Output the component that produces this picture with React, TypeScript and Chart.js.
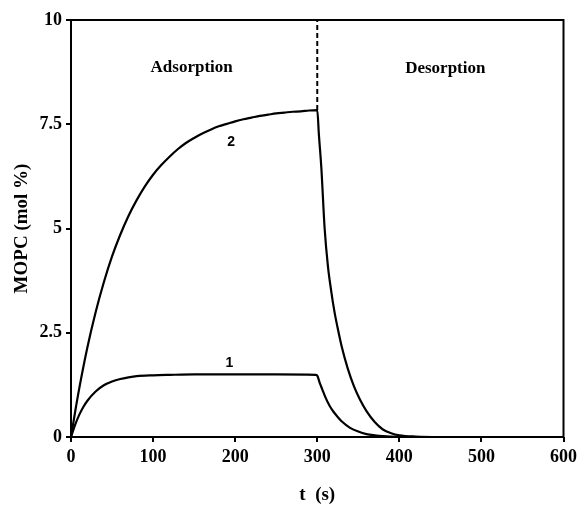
import { useEffect, useRef } from "react";
import { Chart, registerables } from "chart.js";

Chart.register(...registerables);

// Curve 2 (higher MOPC): adsorption 0-300 s, desorption after 300 s
const curve2T = [0, 5, 10, 20, 30, 40, 50, 60, 70, 80, 90, 100, 110, 120, 130, 140, 150, 160, 170, 180, 190, 200, 210, 220, 230, 240, 250, 260, 270, 280, 290, 300, 302, 305, 309, 313, 317, 321, 325, 330, 337, 345, 352, 360, 370, 380, 390, 400, 420, 450, 500, 600];
const curve2V = [0, 0.6, 1.16, 2.15, 2.99, 3.71, 4.33, 4.85, 5.3, 5.68, 6.01, 6.29, 6.52, 6.72, 6.9, 7.05, 7.17, 7.28, 7.37, 7.45, 7.51, 7.57, 7.62, 7.66, 7.7, 7.73, 7.76, 7.78, 7.8, 7.81, 7.83, 7.84, 7.25, 6.45, 5.0, 4.1, 3.5, 3.0, 2.6, 2.15, 1.65, 1.2, 0.9, 0.62, 0.36, 0.18, 0.09, 0.04, 0.01, 0, 0, 0];

// Curve 1 (lower MOPC)
const curve1T = [0, 5, 10, 15, 20, 30, 40, 50, 60, 70, 80, 100, 120, 150, 200, 250, 298, 300, 303, 306, 310, 315, 320, 325, 330, 340, 350, 360, 370, 380, 400, 450, 600];
const curve1V = [0, 0.29, 0.53, 0.72, 0.87, 1.09, 1.24, 1.33, 1.39, 1.43, 1.46, 1.48, 1.49, 1.5, 1.5, 1.5, 1.49, 1.47, 1.3, 1.15, 0.95, 0.75, 0.6, 0.48, 0.37, 0.22, 0.13, 0.07, 0.04, 0.02, 0.005, 0, 0];

// Dashed divider between adsorption and desorption
const dividerT = [300, 300];
const dividerV = [7.84, 10];

const xTicks = [0, 100, 200, 300, 400, 500, 600];
const yTicks = [0, 2.5, 5, 7.5, 10];
const yTickLabels = ["0", "2.5", "5", "7.5", "10"];

const regionLabels = ["Adsorption", "Desorption"];
const regionLabelT = [147, 456];
const regionLabelV = [8.86, 8.84];

const curveLabels = ["2", "1"];
const curveLabelT = [195, 193];
const curveLabelV = [7.08, 1.78];

const SERIF = "'Liberation Serif', 'Times New Roman', serif";
const SANS = "'Liberation Sans', Arial, sans-serif";

const toPoints = (ts: number[], vs: number[]) => ts.map((t, i) => ({ x: t, y: vs[i] }));

const textPlugin = {
  id: "textPlugin",
  afterDatasetsDraw(chart: any) {
    const { ctx, chartArea, scales } = chart;
    ctx.save();
    ctx.strokeStyle = "#000";
    ctx.lineWidth = 2;
    ctx.strokeRect(chartArea.left, chartArea.top, chartArea.right - chartArea.left, chartArea.bottom - chartArea.top);
    ctx.fillStyle = "#000";
    ctx.textAlign = "center";
    ctx.textBaseline = "middle";
    ctx.font = `bold 17px ${SERIF}`;
    regionLabels.forEach((s, i) => {
      ctx.fillText(s, scales.x.getPixelForValue(regionLabelT[i]), scales.y.getPixelForValue(regionLabelV[i]));
    });
    ctx.font = `bold 14px ${SANS}`;
    curveLabels.forEach((s, i) => {
      ctx.fillText(s, scales.x.getPixelForValue(curveLabelT[i]), scales.y.getPixelForValue(curveLabelV[i]));
    });
    ctx.restore();
  },
};

export default function App() {
  const ref = useRef<HTMLCanvasElement | null>(null);
  useEffect(() => {
    document.body.style.margin = "0";
    if (!ref.current) return;
    const tickFont = { family: SERIF, weight: "bold" as const, size: 18 };
    const chart = new Chart(ref.current, {
      type: "scatter",
      data: {
        datasets: [
          {
            data: toPoints(curve2T, curve2V),
            showLine: true,
            borderColor: "#000",
            borderWidth: 2.2,
            pointRadius: 0,
            cubicInterpolationMode: "monotone",
          },
          {
            data: toPoints(curve1T, curve1V),
            showLine: true,
            borderColor: "#000",
            borderWidth: 2.2,
            pointRadius: 0,
            cubicInterpolationMode: "monotone",
          },
          {
            data: toPoints(dividerT, dividerV),
            showLine: true,
            borderColor: "#000",
            borderWidth: 2,
            borderDash: [5, 3],
            pointRadius: 0,
          },
        ],
      },
      options: {
        animation: false,
        responsive: false,
        events: [],
        layout: { padding: { top: 20, right: 15, left: 0, bottom: 0 } },
        plugins: { legend: { display: false }, tooltip: { enabled: false } },
        scales: {
          x: {
            type: "linear",
            min: 0,
            max: 600,
            afterBuildTicks: (s: any) => {
              s.ticks = xTicks.map((v) => ({ value: v }));
            },
            afterFit: (s: any) => {
              s.height = 69;
            },
            ticks: { color: "#000", font: tickFont, padding: 5, maxRotation: 0 },
            grid: { drawOnChartArea: false, color: "#000", lineWidth: 2, tickLength: 5 },
            border: { display: false },
            title: {
              display: true,
              text: "t  (s)",
              color: "#000",
              font: { family: SERIF, weight: "bold", size: 19 },
              padding: { top: 0, bottom: 0 },
            },
          },
          y: {
            type: "linear",
            min: 0,
            max: 10,
            afterBuildTicks: (s: any) => {
              s.ticks = yTicks.map((v) => ({ value: v }));
            },
            afterFit: (s: any) => {
              s.width = 71;
            },
            ticks: {
              color: "#000",
              font: tickFont,
              padding: 4,
              callback: (v: any) => {
                const i = yTicks.indexOf(Number(v));
                return i >= 0 ? yTickLabels[i] : "";
              },
            },
            grid: { drawOnChartArea: false, color: "#000", lineWidth: 2, tickLength: 5 },
            border: { display: false },
            title: {
              display: true,
              text: "MOPC (mol %)",
              color: "#000",
              font: { family: SERIF, weight: "bold", size: 19 },
              padding: { top: 11, bottom: 0 },
            },
          },
        },
      },
      plugins: [textPlugin],
    });
    return () => chart.destroy();
  }, []);
  return <canvas ref={ref} width={582} height={506} style={{ display: "block" }} />;
}
